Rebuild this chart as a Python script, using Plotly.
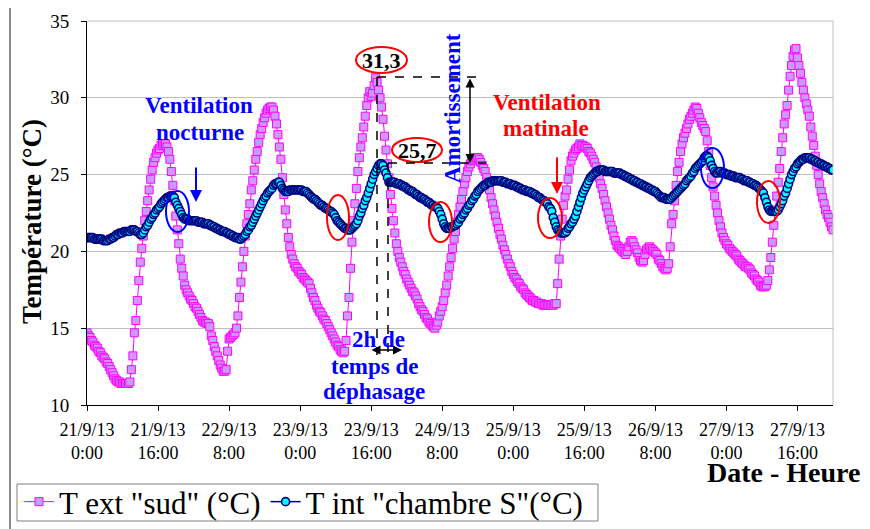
import plotly.graph_objects as go
import pandas as pd

# ---------------- data (20-minute readings, 21/9/13 0:00 -> 28/9/13 0:00) ----------------
start_time = "2013-09-21 00:00"
step = "20min"

t_ext_sud = [
    14.7, 14.5, 14.4, 14.2, 14.1, 13.9, 13.8, 13.7, 13.5, 13.4, 13.2, 13.1,
    13.0, 12.8, 12.7, 12.5, 12.3, 12.1, 11.9, 11.7, 11.6, 11.5, 11.5, 11.4,
    11.4, 11.4, 11.4, 11.4, 11.4, 11.5, 12.3, 13.2, 14.7, 15.5, 16.8, 18.1,
    19.3, 20.2, 21.0, 22.0, 22.6, 23.3, 24.0, 24.7, 25.3, 25.8, 26.1, 26.4,
    26.6, 26.7, 26.9, 27.0, 27.0, 27.0, 26.8, 26.5, 26.0, 25.2, 24.3, 23.3,
    22.3, 21.4, 20.5, 19.5, 18.9, 18.4, 17.8, 17.5, 17.3, 17.1, 16.9, 16.8,
    16.6, 16.4, 16.3, 16.1, 15.9, 15.7, 15.5, 15.4, 15.4, 15.3, 15.3, 15.1,
    14.5, 14.2, 13.8, 13.5, 13.2, 12.9, 12.6, 12.4, 12.2, 12.2, 12.3, 13.5,
    14.3, 14.4, 14.5, 14.6, 14.7, 15.0, 15.8, 17.0, 18.0, 19.0, 20.0, 21.0,
    21.8, 22.4, 23.1, 24.0, 24.6, 25.3, 26.0, 26.5, 27.1, 27.6, 28.0, 28.4,
    28.7, 29.0, 29.2, 29.3, 29.4, 29.4, 29.2, 28.8, 28.3, 27.6, 26.8, 26.0,
    24.8, 23.7, 22.7, 21.8, 20.9, 20.3, 19.8, 19.5, 19.2, 19.0, 18.9, 18.7,
    18.6, 18.5, 18.3, 18.2, 18.1, 18.0, 17.9, 17.6, 17.3, 17.0, 16.8, 16.5,
    16.3, 16.1, 16.0, 15.8, 15.6, 15.5, 15.3, 15.1, 14.9, 14.7, 14.5, 14.3,
    14.1, 13.9, 13.8, 13.6, 13.5, 13.4, 13.5, 14.2, 15.8, 17.0, 18.9, 20.6,
    22.0, 23.1, 24.1, 25.2, 26.1, 26.8, 27.4, 28.1, 28.8, 29.5, 30.0, 30.4,
    30.1, 30.3, 30.8, 31.3, 31.0, 30.5, 30.0, 29.4, 28.6, 27.5, 26.6, 25.7,
    24.8, 23.7, 22.8, 22.0, 21.2, 20.5, 20.0, 19.6, 19.3, 19.0, 18.7, 18.5,
    18.2, 18.0, 17.8, 17.6, 17.4, 17.3, 17.1, 16.9, 16.6, 16.4, 16.2, 16.1,
    15.9, 15.7, 15.6, 15.4, 15.3, 15.2, 15.1, 15.0, 15.2, 15.4, 15.8, 16.1,
    16.4, 16.8, 17.3, 17.8, 18.4, 19.0, 19.6, 20.2, 20.8, 21.3, 21.9, 22.4,
    22.9, 23.4, 23.9, 24.4, 24.8, 25.2, 25.5, 25.7, 25.9, 26.0, 26.1, 26.1,
    26.1, 26.0, 25.8, 25.6, 25.4, 25.2, 24.8, 24.5, 24.0, 23.5, 23.1, 22.7,
    22.3, 21.9, 21.5, 21.1, 20.8, 20.4, 20.1, 19.8, 19.5, 19.2, 19.0, 18.7,
    18.5, 18.3, 18.2, 18.0, 17.9, 17.7, 17.6, 17.5, 17.3, 17.2, 17.1, 17.0,
    16.9, 16.8, 16.8, 16.7, 16.7, 16.6, 16.6, 16.6, 16.5, 16.5, 16.5, 16.5,
    16.5, 16.5, 16.5, 16.5, 16.6, 16.6, 17.9, 19.5, 21.0, 22.1, 23.0, 23.6,
    24.0, 24.7, 25.3, 25.9, 26.2, 26.4, 26.6, 26.7, 26.8, 27.0, 26.9, 26.9,
    26.8, 26.8, 26.7, 26.5, 26.4, 26.2, 26.0, 25.8, 25.5, 25.2, 24.8, 24.4,
    24.1, 23.7, 23.3, 22.9, 22.5, 22.1, 21.7, 21.4, 21.0, 20.7, 20.4, 20.3,
    20.2, 20.1, 20.0, 19.9, 19.8, 20.0, 20.3, 20.6, 20.7, 20.6, 20.3, 20.1,
    19.9, 19.6, 19.4, 19.3, 19.4, 19.8, 20.1, 20.2, 20.3, 20.2, 20.1, 20.0,
    19.9, 19.8, 19.5, 19.4, 19.2, 19.0, 18.9, 18.8, 18.9, 19.2, 20.3, 21.8,
    22.4, 23.3, 24.3, 25.2, 25.8, 26.5, 27.0, 27.4, 27.7, 28.0, 28.3, 28.6,
    28.8, 29.0, 29.2, 29.4, 29.3, 29.0, 28.7, 28.4, 28.2, 28.0, 27.8, 27.2,
    26.5, 25.6, 24.8, 24.2, 23.6, 23.0, 22.5, 22.0, 21.6, 21.2, 20.9, 20.7,
    20.5, 20.4, 20.2, 20.1, 20.0, 19.9, 19.8, 19.7, 19.5, 19.4, 19.3, 19.2,
    19.1, 19.0, 19.0, 18.9, 18.8, 18.6, 18.5, 18.4, 18.2, 18.1, 18.0, 17.8,
    17.7, 17.7, 17.7, 17.8, 18.1, 18.8, 19.6, 20.6, 21.7, 22.7, 23.6, 24.5,
    25.4, 26.5, 27.4, 28.3, 28.9, 29.5, 30.5, 31.4, 32.1, 32.7, 33.1, 33.2,
    32.6, 32.1, 31.6, 31.0, 30.5, 30.0, 29.6, 29.2, 28.8, 28.1, 27.5, 26.9,
    26.2, 25.6, 25.0, 24.4, 23.9, 23.5, 23.1, 22.7, 22.4, 22.2, 21.9, 21.6,
    21.4,
]

t_int_chambre = [
    20.9, 20.9, 20.9, 20.9, 20.9, 20.8, 20.8, 20.8, 20.8, 20.8, 20.8, 20.7,
    20.7, 20.7, 20.7, 20.8, 20.8, 20.9, 20.9, 21.0, 21.1, 21.1, 21.2, 21.2,
    21.2, 21.3, 21.3, 21.3, 21.3, 21.3, 21.4, 21.4, 21.4, 21.3, 21.3, 21.2,
    21.1, 21.1, 21.2, 21.4, 21.6, 21.7, 21.9, 22.1, 22.2, 22.4, 22.5, 22.7,
    22.8, 22.9, 23.1, 23.2, 23.3, 23.4, 23.5, 23.5, 23.6, 23.6, 23.6, 23.5,
    23.2, 23.0, 22.8, 22.6, 22.4, 22.2, 22.1, 22.1, 22.1, 22.0, 22.0, 22.0,
    22.0, 22.0, 22.0, 21.9, 21.9, 21.9, 21.9, 21.8, 21.8, 21.8, 21.8, 21.7,
    21.7, 21.6, 21.6, 21.5, 21.5, 21.4, 21.4, 21.3, 21.3, 21.3, 21.2, 21.2,
    21.1, 21.1, 21.0, 21.0, 20.9, 20.9, 20.9, 20.8, 20.8, 20.9, 21.0, 21.1,
    21.3, 21.4, 21.6, 21.7, 21.9, 22.1, 22.3, 22.5, 22.7, 22.9, 23.1, 23.3,
    23.5, 23.6, 23.8, 23.9, 24.0, 24.1, 24.3, 24.4, 24.4, 24.5, 24.5, 24.3,
    24.1, 24.0, 23.9, 23.9, 23.9, 24.0, 24.0, 24.0, 24.0, 24.0, 24.0, 24.0,
    24.0, 24.0, 23.9, 23.9, 23.9, 23.8, 23.7, 23.6, 23.5, 23.4, 23.4, 23.3,
    23.2, 23.1, 23.0, 23.0, 22.9, 22.8, 22.8, 22.7, 22.6, 22.6, 22.5, 22.4,
    22.2, 22.0, 21.9, 21.8, 21.7, 21.6, 21.5, 21.5, 21.4, 21.4, 21.4, 21.5,
    21.6, 21.7, 21.8, 22.0, 22.3, 22.5, 22.8, 23.0, 23.3, 23.5, 23.8, 24.1,
    24.4, 24.7, 25.0, 25.2, 25.4, 25.6, 25.7, 25.7, 25.6, 25.3, 25.1, 24.8,
    24.5, 24.5, 24.5, 24.5, 24.5, 24.4, 24.4, 24.4, 24.3, 24.3, 24.2, 24.2,
    24.1, 24.0, 24.0, 23.9, 23.9, 23.8, 23.7, 23.7, 23.6, 23.5, 23.5, 23.4,
    23.4, 23.3, 23.2, 23.2, 23.1, 23.0, 23.0, 22.9, 22.9, 22.8, 22.6, 22.4,
    22.1, 21.8, 21.6, 21.5, 21.5, 21.5, 21.6, 21.6, 21.7, 21.7, 21.8, 21.9,
    22.1, 22.2, 22.4, 22.5, 22.7, 22.8, 23.0, 23.1, 23.3, 23.4, 23.6, 23.7,
    23.9, 24.0, 24.1, 24.2, 24.3, 24.3, 24.4, 24.5, 24.5, 24.5, 24.6, 24.6,
    24.6, 24.6, 24.6, 24.6, 24.6, 24.5, 24.5, 24.5, 24.4, 24.4, 24.4, 24.3,
    24.3, 24.3, 24.2, 24.2, 24.1, 24.1, 24.0, 24.0, 24.0, 23.9, 23.9, 23.9,
    23.8, 23.8, 23.7, 23.7, 23.6, 23.5, 23.5, 23.4, 23.3, 23.3, 23.2, 23.1,
    22.9, 22.8, 22.6, 22.2, 21.9, 21.6, 21.4, 21.3, 21.2, 21.2, 21.2, 21.2,
    21.3, 21.5, 21.6, 21.8, 21.9, 22.1, 22.3, 22.6, 22.9, 23.2, 23.5, 23.8,
    24.0, 24.2, 24.4, 24.6, 24.8, 24.9, 25.0, 25.1, 25.2, 25.2, 25.3, 25.3,
    25.3, 25.3, 25.2, 25.2, 25.2, 25.2, 25.2, 25.2, 25.1, 25.1, 25.1, 25.1,
    25.1, 25.0, 25.0, 24.9, 24.9, 24.8, 24.8, 24.7, 24.7, 24.6, 24.6, 24.5,
    24.5, 24.4, 24.4, 24.3, 24.3, 24.2, 24.2, 24.1, 24.1, 24.0, 24.0, 23.9,
    23.9, 23.8, 23.7, 23.6, 23.5, 23.5, 23.5, 23.4, 23.4, 23.4, 23.4, 23.5,
    23.6, 23.7, 23.8, 23.9, 24.0, 24.1, 24.2, 24.3, 24.4, 24.6, 24.7, 24.8,
    24.9, 25.1, 25.2, 25.4, 25.5, 25.6, 25.7, 25.8, 25.9, 26.1, 26.2, 26.2,
    26.1, 25.9, 25.6, 25.4, 25.2, 25.1, 25.1, 25.2, 25.2, 25.1, 25.1, 25.1,
    25.0, 25.0, 25.0, 24.9, 24.9, 24.9, 24.8, 24.8, 24.8, 24.8, 24.7, 24.7,
    24.6, 24.6, 24.6, 24.5, 24.5, 24.4, 24.4, 24.3, 24.3, 24.2, 24.1, 24.0,
    23.9, 23.8, 23.5, 23.2, 22.9, 22.7, 22.6, 22.6, 22.6, 22.6, 22.6, 22.7,
    22.9, 23.1, 23.3, 23.6, 23.8, 24.1, 24.4, 24.7, 25.0, 25.2, 25.4, 25.5,
    25.7, 25.8, 25.9, 26.0, 26.0, 26.1, 26.1, 26.1, 26.1, 26.0, 26.0, 25.9,
    25.9, 25.8, 25.8, 25.7, 25.7, 25.6, 25.6, 25.5, 25.5, 25.4, 25.4, 25.3,
    25.3,
]

tick_dates = ["2013-09-21 00:00", "2013-09-21 16:00", "2013-09-22 08:00",
              "2013-09-23 00:00", "2013-09-23 16:00", "2013-09-24 08:00",
              "2013-09-25 00:00", "2013-09-25 16:00", "2013-09-26 08:00",
              "2013-09-27 00:00", "2013-09-27 16:00"]
tick_labels = ["21/9/13<br>0:00", "21/9/13<br>16:00", "22/9/13<br>8:00",
               "23/9/13<br>0:00", "23/9/13<br>16:00", "24/9/13<br>8:00",
               "25/9/13<br>0:00", "25/9/13<br>16:00", "26/9/13<br>8:00",
               "27/9/13<br>0:00", "27/9/13<br>16:00"]
x_range = ["2013-09-21 00:00", "2013-09-28 00:00"]

times_ext = pd.date_range(start_time, periods=len(t_ext_sud), freq=step)
times_int = pd.date_range(start_time, periods=len(t_int_chambre), freq=step)

# ---------------- layout helpers (screen pixel -> paper) ----------------
OFF = 8                      # page body margin of the browser
W, H = 870 - OFF, 529 - OFF  # figure size so that it fits the window
L, R, T, B = 87, 833, 21, 405  # plot area in screen pixels


def PX(x):
    return (x - L) / (R - L)


def PY(y):
    return (B - y) / (B - T)


SERIF = "Liberation Serif"
BLUE = "#0000FF"
RED = "#FF0000"

fig = go.Figure()
fig.add_trace(go.Scatter(
    x=times_ext, y=t_ext_sud, name='T ext "sud" (°C)', mode="lines+markers",
    line=dict(color="#FF00FF", width=1),
    marker=dict(symbol="square", size=8, color="#CC99FF",
                line=dict(color="#FF00FF", width=1)),
))
fig.add_trace(go.Scatter(
    x=times_int, y=t_int_chambre, name='T int "chambre S"(°C)', mode="lines+markers",
    line=dict(color="#000080", width=1.5),
    marker=dict(symbol="circle", size=8, color="#00FFFF",
                line=dict(color="#000080", width=1.6)),
))

shapes = []
# outer chart frame (left + top)
shapes.append(dict(type="line", xref="paper", yref="paper", x0=PX(10), x1=PX(10),
                   y0=PY(6), y1=PY(540), line=dict(color="#8C8C8C", width=2)))
shapes.append(dict(type="line", xref="paper", yref="paper", x0=PX(10), x1=PX(880),
                   y0=PY(6), y1=PY(6), line=dict(color="#8C8C8C", width=2)))
# plot area top/right border
shapes.append(dict(type="line", xref="paper", yref="paper", x0=0, x1=1, y0=1, y1=1,
                   line=dict(color="#C0C0C0", width=1)))
shapes.append(dict(type="line", xref="paper", yref="paper", x0=1, x1=1, y0=0, y1=1,
                   line=dict(color="#C0C0C0", width=1)))
# legend frame
shapes.append(dict(type="rect", xref="paper", yref="paper", x0=PX(17), x1=PX(598),
                   y0=PY(521), y1=PY(484), line=dict(color="#808080", width=1)))


def ellipse(x0, x1, y0, y1, color):
    shapes.append(dict(type="circle", xref="paper", yref="paper",
                       x0=PX(x0), x1=PX(x1), y0=PY(y1), y1=PY(y0),
                       line=dict(color=color, width=2), layer="above"))


def dash(x0, y0, x1, y1):
    shapes.append(dict(type="line", xref="paper", yref="paper",
                       x0=PX(x0), x1=PX(x1), y0=PY(y0), y1=PY(y1),
                       line=dict(color="black", width=1.5, dash="dash"), layer="above"))


# ellipses
ellipse(166, 189, 191, 232, BLUE)
ellipse(701, 724, 148, 188, BLUE)
ellipse(327, 349, 195, 240, RED)
ellipse(429, 452, 202, 242, RED)
ellipse(538, 562, 198, 238, RED)
ellipse(757, 780, 181, 223, RED)
ellipse(356, 407, 47, 73, RED)
ellipse(392, 442, 138, 162, RED)

# dashed guides
dash(377, 77, 480, 77)
dash(388, 163, 486, 163)
dash(377, 77, 377, 355)
dash(388, 163, 388, 355)

annotations = []


def text(x, y, s, color, size=23, angle=0):
    annotations.append(dict(xref="paper", yref="paper", x=PX(x), y=PY(y), text=s,
                            showarrow=False, textangle=angle,
                            font=dict(family=SERIF, size=size, color=color),
                            xanchor="center", yanchor="middle"))


def arrow(x, y, ax, ay, color, both=False, width=1.5):
    annotations.append(dict(xref="paper", yref="paper", x=PX(x), y=PY(y), text="",
                            showarrow=True, ax=ax, ay=ay, axref="pixel", ayref="pixel",
                            arrowhead=2, arrowsize=1.2, arrowwidth=width, arrowcolor=color,
                            arrowside="end+start" if both else "end",
                            startarrowhead=2, startarrowsize=1.2))


text(199, 105, "<b>Ventilation</b>", BLUE)
text(200, 132, "<b>nocturne</b>", BLUE)
arrow(196, 202, 0, -36, BLUE, width=2)

text(547, 103, "<b>Ventilation</b>", RED)
text(546, 128, "<b>matinale</b>", RED)
arrow(557, 194, 0, -38, RED, width=2)

text(381, 60, "<b>31,3</b>", "black", size=22)
text(417, 150, "<b>25,7</b>", "black", size=22)

text(452, 108, "<b>Amortissement</b>", BLUE, angle=-90)
arrow(470, 163, 0, -86, "black", both=True, width=1.5)

text(378, 339, "<b>2h de</b>", BLUE)
text(375, 366, "<b>temps de</b>", BLUE)
text(374, 391, "<b>déphasage</b>", BLUE)
arrow(402, 350, -32, 0, "black", both=True, width=1.5)

text(32, 222, "<b>Température (°C)</b>", "black", size=27, angle=-90)
text(783, 472, "<b>Date - Heure</b>", "black", size=28)

fig.update_layout(
    width=W, height=H,
    margin=dict(l=L - OFF, r=W - (R - OFF), t=T - OFF, b=H - (B - OFF), pad=0,
                autoexpand=False),
    paper_bgcolor="white", plot_bgcolor="white",
    font=dict(family=SERIF, color="black"),
    showlegend=True,
    legend=dict(orientation="h", x=PX(19), y=PY(502), xanchor="left", yanchor="middle",
                borderwidth=0, bgcolor="rgba(0,0,0,0)",
                font=dict(family=SERIF, size=31, color="black"),
                itemwidth=30, tracegroupgap=0),
    shapes=shapes,
    annotations=annotations,
)
fig.update_xaxes(
    type="date", range=x_range, tickvals=tick_dates, ticktext=tick_labels,
    ticks="outside", ticklen=5, tickcolor="black", showgrid=False,
    showline=True, linecolor="black", linewidth=1, zeroline=False,
    tickfont=dict(family=SERIF, size=18, color="black"), tickangle=0,
    ticklabelstandoff=3,
)
fig.update_yaxes(
    range=[10, 35], dtick=5, tick0=10, ticks="outside", ticklen=5, tickcolor="black",
    showgrid=True, gridcolor="#C0C0C0", gridwidth=1,
    showline=True, linecolor="black", linewidth=1, zeroline=False,
    tickfont=dict(family=SERIF, size=19, color="black"), ticklabelstandoff=8,
)

fig.write_html("out.html")
